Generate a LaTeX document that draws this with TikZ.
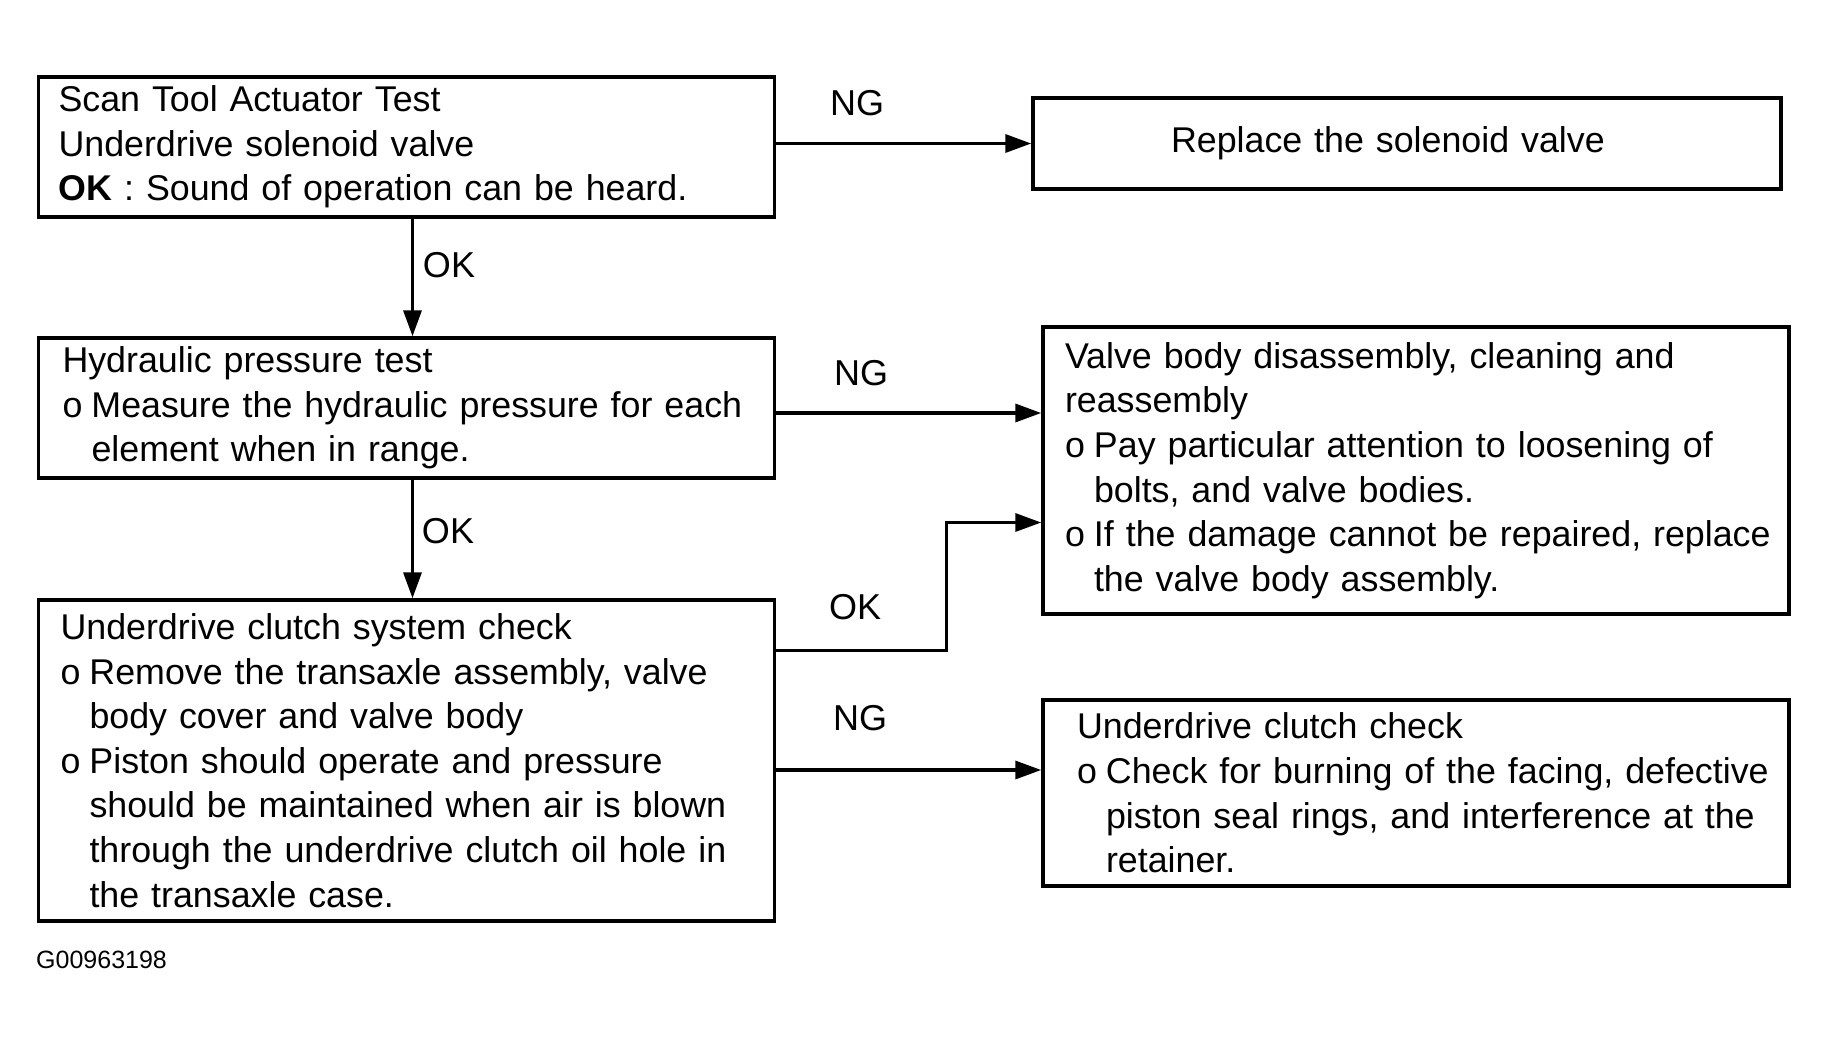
\documentclass[tikz,border=0pt]{standalone}
\usepackage{fontspec}
\setmainfont{Liberation Sans}
\usetikzlibrary{arrows.meta}
\newcommand{\bul}{\makebox[29pt][l]{o}}
\newcommand{\hang}{\hspace*{29pt}}
\newcommand{\nobr}[1]{\mbox{#1}}

\begin{document}
\begin{tikzpicture}[x=1pt,y=-1pt]
	\tikzstyle{box} = [rectangle, draw=black, line width=3.5pt, align=left, inner ysep=2pt, font=\fontsize{35.8pt}{44.6pt}\selectfont]
	\tikzstyle{lbl} = [font=\fontsize{36pt}{40pt}\selectfont]
	\tikzstyle{arrow} = [line width=3.5pt, -{Triangle[length=26pt,width=18pt]}]
	\useasboundingbox (0,0) rectangle (1829,1044);
	\node (scan) [box, minimum width=736pt, minimum height=140pt, inner xsep=20pt, text width=696pt] at (406.5,147) {Scan Tool Actuator Test\\Underdrive solenoid valve\\\textbf{OK} : Sound of operation can be heard.};
	\node (replace) [box, minimum width=748pt, minimum height=91pt, inner xsep=138pt, text width=472pt] at (1407,143.5) {Replace the solenoid valve};
	\node (hydraulic) [box, minimum width=736pt, minimum height=140pt, inner xsep=24pt, text width=688pt] at (406.5,408) {Hydraulic pressure test\\\nobr{\bul Measure the hydraulic pressure for each}\\\hang element when in range.};
	\node (valveBody) [box, minimum width=746pt, minimum height=287pt, inner xsep=22pt, text width=702pt] at (1416,470.5) {\nobr{Valve body disassembly, cleaning and}\\reassembly\\\nobr{\bul Pay particular attention to loosening of}\\\hang bolts, and valve bodies.\\\nobr{\bul If the damage cannot be repaired, replace}\\\hang the valve body assembly.};
	\node (clutchSystem) [box, minimum width=736pt, minimum height=321pt, inner xsep=22pt, text width=692pt] at (406.5,760.5) {Underdrive clutch system check\\\bul Remove the transaxle assembly, valve\\\hang body cover and valve body\\\bul Piston should operate and pressure\\\nobr{\hang should be maintained when air is blown}\\\nobr{\hang through the underdrive clutch oil hole in}\\\hang the transaxle case.};
	\node (clutch) [box, minimum width=746pt, minimum height=186pt, inner xsep=34pt, text width=678pt] at (1416,793) {Underdrive clutch check\\\nobr{\bul Check for burning of the facing, defective}\\\nobr{\hang piston seal rings, and interference at the}\\\hang retainer.};
	\node (ng1) [lbl] at (857,103) {NG};
	\node (ok1) [lbl] at (449,265) {OK};
	\node (ng2) [lbl] at (861,373) {NG};
	\node (ok2) [lbl] at (448,531) {OK};
	\node (ok3) [lbl] at (855,607) {OK};
	\node (ng3) [lbl] at (860,718) {NG};
	\node (code) [font=\fontsize{25pt}{28pt}\selectfont, anchor=west, inner sep=0pt] at (36,960) {G00963198};
	\draw [arrow] (replace.west -| scan.east) -- (replace.west);
	\draw [arrow] ([xshift=6pt]scan.south) -- ([xshift=6pt]hydraulic.north);
	\draw [arrow] ([yshift=-5pt]hydraulic.east) -- ([yshift=-5pt]hydraulic.east -| valveBody.west);
	\draw [arrow] ([xshift=6pt]hydraulic.south) -- ([xshift=6pt]clutchSystem.north);
	\draw [arrow] ([yshift=110pt]clutchSystem.east) -- ++(170,0) |- ([yshift=-52pt]valveBody.west);
	\draw [arrow] ([yshift=23pt]clutch.west -| clutchSystem.east) -- ([yshift=23pt]clutch.west);
\end{tikzpicture}
\end{document}
